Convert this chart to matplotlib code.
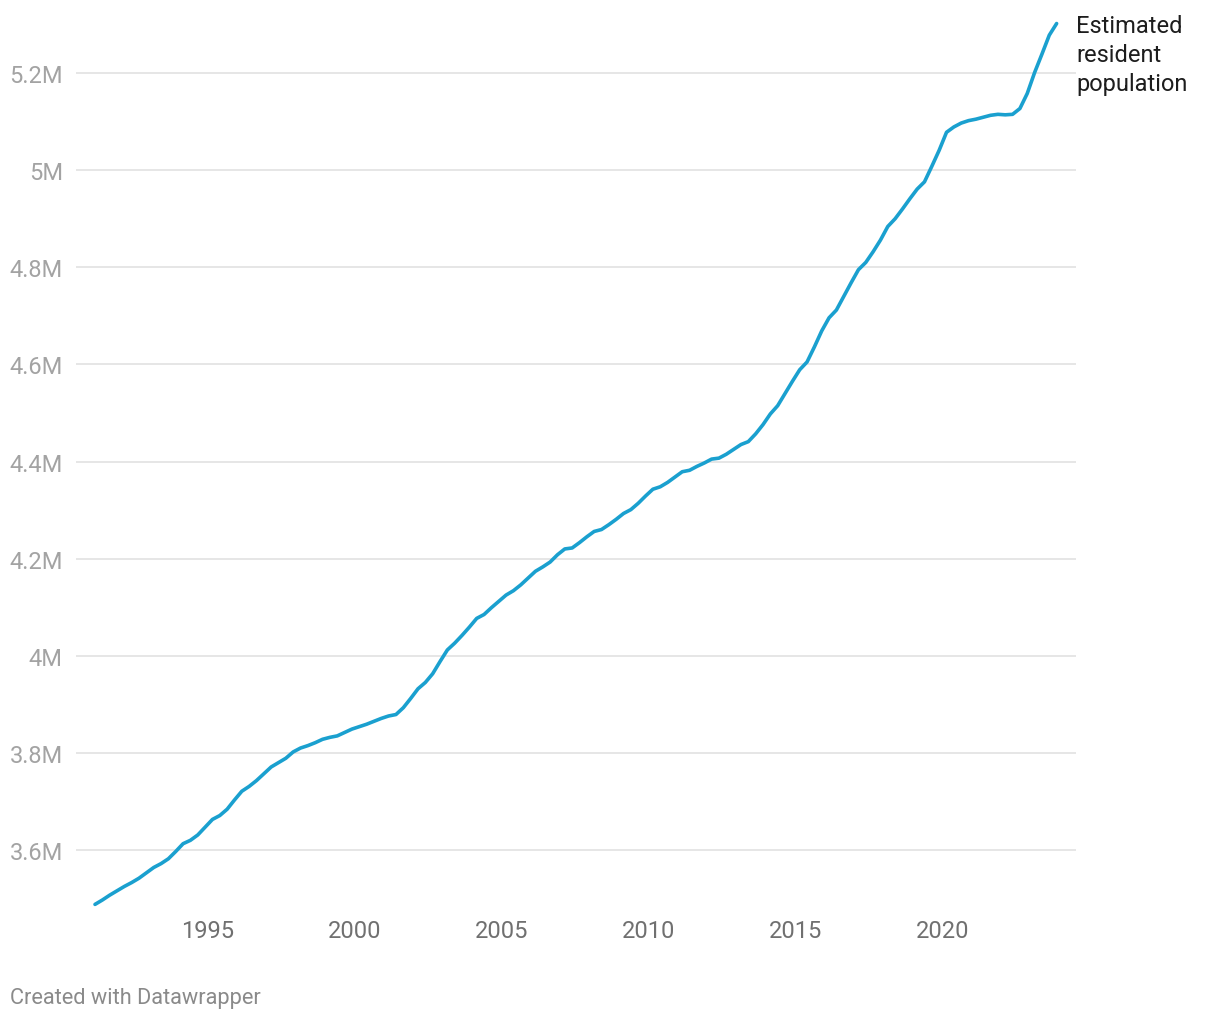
from __future__ import annotations

import matplotlib

matplotlib.use("Agg")
import matplotlib.pyplot as plt
import matplotlib.transforms as mtransforms
import numpy as np
import pandas as pd

# Quarterly estimated resident population (millions), Mar 1991 .. Dec 2023
FIRST_QUARTER = "1991Q1"
LAST_QUARTER = "2023Q4"
POPULATION_M = [
    3.488, 3.497, 3.507, 3.516, 3.525, 3.533, 3.542, 3.553,
    3.564, 3.572, 3.582, 3.597, 3.613, 3.620, 3.631, 3.647,
    3.663, 3.671, 3.684, 3.703, 3.721, 3.731, 3.743, 3.757,
    3.771, 3.780, 3.789, 3.802, 3.810, 3.815, 3.821, 3.828,
    3.832, 3.835, 3.842, 3.849, 3.854, 3.859, 3.865, 3.871,
    3.876, 3.879, 3.893, 3.912, 3.932, 3.945, 3.963, 3.988,
    4.012, 4.026, 4.042, 4.059, 4.077, 4.085, 4.099, 4.112,
    4.125, 4.134, 4.146, 4.160, 4.174, 4.183, 4.193, 4.208,
    4.220, 4.222, 4.233, 4.245, 4.256, 4.260, 4.270, 4.281,
    4.293, 4.301, 4.314, 4.329, 4.343, 4.348, 4.357, 4.368,
    4.379, 4.382, 4.390, 4.397, 4.405, 4.407, 4.415, 4.425,
    4.435, 4.441, 4.457, 4.476, 4.498, 4.515, 4.540, 4.565,
    4.589, 4.605, 4.636, 4.669, 4.696, 4.712, 4.740, 4.768,
    4.795, 4.810, 4.832, 4.856, 4.884, 4.900, 4.920, 4.941,
    4.961, 4.976, 5.008, 5.041, 5.078, 5.089, 5.097, 5.102,
    5.105, 5.109, 5.113, 5.115, 5.114, 5.115, 5.127, 5.158,
    5.201, 5.239, 5.278, 5.302,
]

Y_TICKS = [3.6, 3.8, 4.0, 4.2, 4.4, 4.6, 4.8, 5.0, 5.2]
Y_TICK_LABELS = ["3.6M", "3.8M", "4M", "4.2M", "4.4M", "4.6M", "4.8M", "5M", "5.2M"]
X_TICKS = [1995, 2000, 2005, 2010, 2015, 2020]
SERIES_LABEL = "Estimated\nresident\npopulation"
CREDIT = "Created with Datawrapper"

LINE_COLOR = "#1aa0cf"
GRID_COLOR = "#e2e2e2"


def main() -> None:
    plt.rcParams["font.family"] = ["Roboto", "DejaVu Sans"]

    quarters = pd.period_range(FIRST_QUARTER, LAST_QUARTER, freq="Q")
    x = quarters.year + quarters.quarter / 4.0
    y = np.array(POPULATION_M)

    fig = plt.figure(figsize=(12.2, 10.2), dpi=100)
    ax = fig.add_axes([76 / 1220, 1 - 912 / 1020, 1000 / 1220, 895 / 1020])

    ax.plot(x, y, color=LINE_COLOR, linewidth=2.6, solid_capstyle="round", zorder=3)

    ax.set_xlim(1990.603, 2024.66)
    ax.set_ylim(3.4744, 5.3175)

    ax.set_yticks(Y_TICKS)
    ax.set_yticklabels(Y_TICK_LABELS)
    ax.set_xticks(X_TICKS)
    ax.set_xticklabels([str(v) for v in X_TICKS])

    ax.grid(axis="y", color=GRID_COLOR, linewidth=1.2, zorder=0)
    ax.grid(axis="x", visible=False)
    for spine in ax.spines.values():
        spine.set_visible(False)
    ax.tick_params(axis="y", length=0, pad=9.5, labelsize=17, labelcolor="#a3a3a3")
    ax.tick_params(axis="x", length=0, pad=5.8, labelsize=17, labelcolor="#707070")

    # year labels sit a few pixels right of Jan 1 in the original
    shift = mtransforms.ScaledTranslation(3 / 100, 0, fig.dpi_scale_trans)
    for label in ax.get_xticklabels():
        label.set_transform(label.get_transform() + shift)

    fig.text(1076 / 1220, 1 - 15 / 1020, SERIES_LABEL, ha="left", va="top",
             fontsize=17, color="#1d1d1d", linespacing=1.32)
    fig.text(10 / 1220, 1 - 999 / 1020, CREDIT, ha="left", va="center",
             fontsize=15.7, color="#8a8a8a")

    fig.savefig("out.png", dpi=100)
    plt.close(fig)


if __name__ == "__main__":
    main()
